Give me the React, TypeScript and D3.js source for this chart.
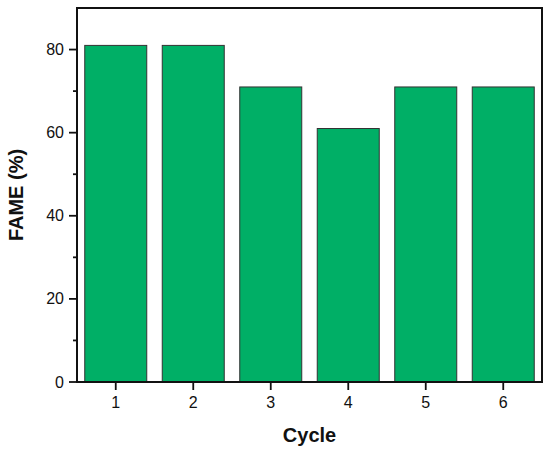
import { scaleLinear } from "d3";

const cycles = [1, 2, 3, 4, 5, 6];
const fame = [81, 81, 71, 61, 71, 71];
const yTicks = [0, 20, 40, 60, 80];
const yMinorTicks = [10, 30, 50, 70];

const width = 550;
const height = 452;
const margin = { top: 8, right: 8, bottom: 70, left: 77 };
const barColor = "#00af66";
const ink = "#111";
const font = "Arial, 'Liberation Sans', Helvetica, sans-serif";

export default function App(): React.JSX.Element {
  const x = scaleLinear()
    .domain([0.5, 6.5])
    .range([margin.left, width - margin.right]);
  const y = scaleLinear()
    .domain([0, 90])
    .range([height - margin.bottom, margin.top]);
  const barWidth = x(1.8) - x(1);
  const left = x(0.5);
  const right = x(6.5);
  const top = y(90);
  const bottom = y(0);

  return (
    <svg
      width={width}
      height={height}
      style={{ display: "block", position: "absolute", left: 0, top: 0, background: "#fff" }}
      fontFamily={font}
    >
      {cycles.map((c, i) => (
        <rect
          key={c}
          x={x(c) - barWidth / 2}
          y={y(fame[i])}
          width={barWidth}
          height={bottom - y(fame[i])}
          fill={barColor}
          stroke="#333"
          strokeWidth={1}
        />
      ))}
      <rect
        x={left}
        y={top}
        width={right - left}
        height={bottom - top}
        fill="none"
        stroke={ink}
        strokeWidth={2}
      />
      {cycles.map((c) => (
        <g key={c} transform={`translate(${x(c)},${bottom})`}>
          <line y2={8} stroke={ink} strokeWidth={1.8} />
          <text y={26} textAnchor="middle" fontSize={16} fill={ink}>
            {c}
          </text>
        </g>
      ))}
      {yTicks.map((t) => (
        <g key={t} transform={`translate(${left},${y(t)})`}>
          <line x2={-8} stroke={ink} strokeWidth={1.8} />
          <text x={-13} dy="0.35em" textAnchor="end" fontSize={16} fill={ink}>
            {t}
          </text>
        </g>
      ))}
      {yMinorTicks.map((t) => (
        <line
          key={t}
          x1={left}
          x2={left - 4}
          y1={y(t)}
          y2={y(t)}
          stroke={ink}
          strokeWidth={1.8}
        />
      ))}
      <text
        x={x(3.5)}
        y={442}
        textAnchor="middle"
        fontSize={20}
        fontWeight="bold"
        fill={ink}
      >
        Cycle
      </text>
      <text
        transform={`translate(23,${(top + bottom) / 2}) rotate(-90)`}
        textAnchor="middle"
        fontSize={20}
        fontWeight="bold"
        fill={ink}
      >
        FAME (%)
      </text>
    </svg>
  );
}
